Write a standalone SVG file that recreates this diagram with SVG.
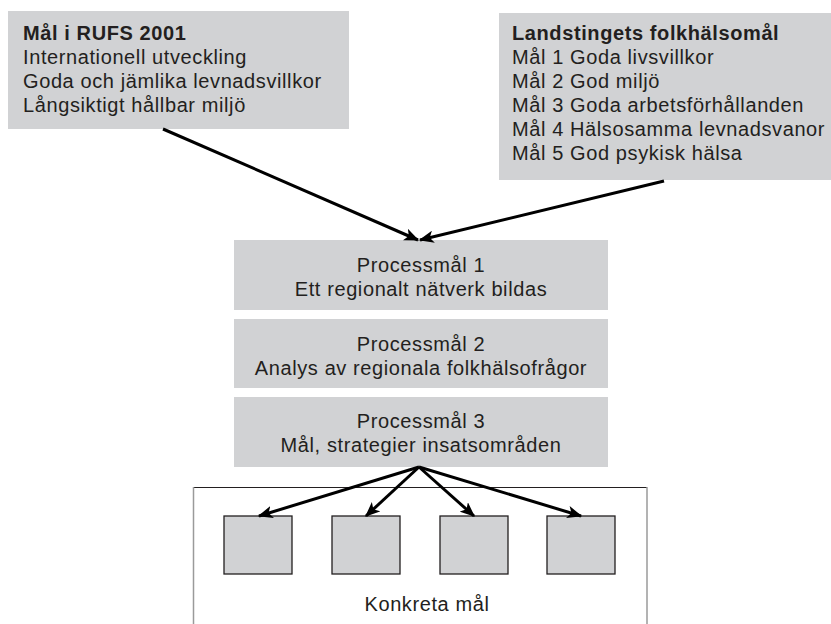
<svg xmlns="http://www.w3.org/2000/svg" width="831" height="624" viewBox="0 0 831 624">
<style>
.box{fill:#d1d2d4}
.t{font-family:"Liberation Sans",Arial,sans-serif;font-size:20px;letter-spacing:0.6px;fill:#231f20}
.b{font-weight:bold;letter-spacing:0.6px}
.c{text-anchor:middle}
.sq{fill:#d1d2d4;stroke:#231f20;stroke-width:1.3}
.ln{stroke:#000;stroke-width:3;fill:none;marker-end:url(#ah)}
</style>
<defs>
<marker id="ah" viewBox="0 0 12 10" refX="11" refY="5" markerWidth="5" markerHeight="4.2" orient="auto" markerUnits="strokeWidth">
<path d="M0,0 L12,5 L0,10 L3,5 Z" fill="#000"/>
</marker>
</defs>
<rect width="831" height="624" fill="#fff"/>
<g id="rufs">
<rect class="box" x="8" y="11" width="341" height="118"/>
<text class="t b" x="23" y="40">Mål i RUFS 2001</text>
<text class="t" x="23" y="64">Internationell utveckling</text>
<text class="t" x="23" y="88">Goda och jämlika levnadsvillkor</text>
<text class="t" x="23" y="112">Långsiktigt hållbar miljö</text>
</g>
<g id="landsting">
<rect class="box" x="499" y="13" width="332" height="167"/>
<text class="t b" x="512" y="40">Landstingets folkhälsomål</text>
<text class="t" x="512" y="64">Mål 1 Goda livsvillkor</text>
<text class="t" x="512" y="88">Mål 2 God miljö</text>
<text class="t" x="512" y="112">Mål 3 Goda arbetsförhållanden</text>
<text class="t" x="512" y="136">Mål 4 Hälsosamma levnadsvanor</text>
<text class="t" x="512" y="160">Mål 5 God psykisk hälsa</text>
</g>
<g id="pm1">
<rect class="box" x="234" y="240" width="374" height="70"/>
<text class="t c" x="421" y="272">Processmål 1</text>
<text class="t c" x="421" y="296">Ett regionalt nätverk bildas</text>
</g>
<g id="pm2">
<rect class="box" x="234" y="319" width="374" height="69"/>
<text class="t c" x="421" y="351">Processmål 2</text>
<text class="t c" x="421" y="375">Analys av regionala folkhälsofrågor</text>
</g>
<g id="pm3">
<rect class="box" x="234" y="397" width="374" height="70"/>
<text class="t c" x="421" y="428">Processmål 3</text>
<text class="t c" x="421" y="452">Mål, strategier insatsområden</text>
</g>
<g id="konkreta">
<line x1="193" y1="487.5" x2="647" y2="487.5" stroke="#231f20" stroke-width="1"/>
<line x1="193.5" y1="487" x2="193.5" y2="624" stroke="#9a9a9a" stroke-width="1.5"/>
<line x1="647" y1="487" x2="647" y2="624" stroke="#9a9a9a" stroke-width="1.5"/>
<text class="t c" x="427" y="611">Konkreta mål</text>
</g>
<g id="k1"><rect class="sq" x="224" y="516" width="68" height="58"/></g>
<g id="k2"><rect class="sq" x="332" y="516" width="68" height="58"/></g>
<g id="k3"><rect class="sq" x="440" y="516" width="68" height="58"/></g>
<g id="k4"><rect class="sq" x="547" y="516" width="68" height="58"/></g>
<g id="connectors">
<line class="ln" x1="163" y1="129" x2="418" y2="240"/>
<line class="ln" x1="664" y1="181" x2="420" y2="240"/>
<line class="ln" x1="419" y1="467" x2="259" y2="516"/>
<line class="ln" x1="419" y1="467" x2="366" y2="516"/>
<line class="ln" x1="419" y1="467" x2="474" y2="516"/>
<line class="ln" x1="419" y1="467" x2="581" y2="516"/>
</g>
</svg>
